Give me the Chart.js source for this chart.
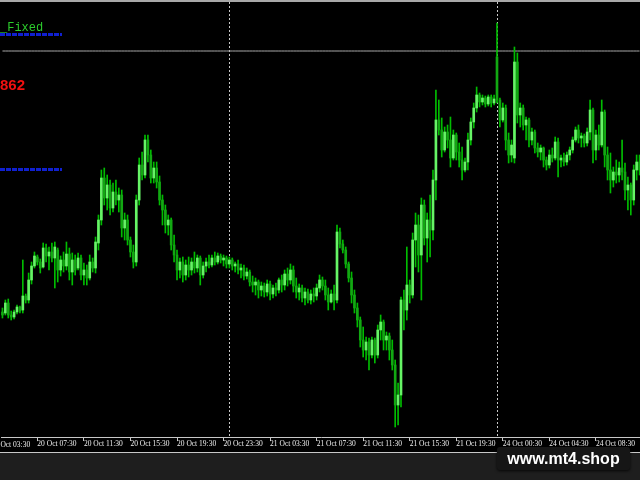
<!DOCTYPE html>
<html>
<head>
<meta charset="utf-8">
<script src="https://cdn.jsdelivr.net/npm/chart.js@4.4.0/dist/chart.umd.min.js"></script>
<style>
html,body{margin:0;padding:0;background:#000;width:640px;height:480px;overflow:hidden;}
body{position:relative;}
#wrap{position:absolute;left:0;top:0;width:640px;height:453px;overflow:hidden;}
#c{position:absolute;left:0;top:0;}
.topline{position:absolute;left:0;top:0;width:640px;height:2px;background:#a8a8a8;z-index:3;}
.bline{position:absolute;left:0;top:452px;width:640px;height:1px;background:#c8c8c8;z-index:3;}
.bottom{position:absolute;left:0;top:453px;width:640px;height:27px;background:#1e1e1e;z-index:2;}
.lbl{position:absolute;white-space:nowrap;z-index:4;}
.dash{position:absolute;left:0;width:62px;height:3px;z-index:4;
  background:repeating-linear-gradient(90deg,#1020d0 0 5px,rgba(0,0,0,0) 5px 6px);}
.wm{position:absolute;left:497px;top:447px;width:133px;height:23px;background:#161616;border-radius:3px;
  box-shadow:0 1px 3px rgba(0,0,0,0.8);z-index:5;color:#fff;font:bold 16px 'Liberation Sans',Arial,sans-serif;
  display:flex;align-items:center;justify-content:center;}
</style>
</head>
<body>
<div class="topline"></div>
<div id="wrap"><canvas id="c" width="641" height="453"></canvas></div>
<div class="lbl" style="left:0;top:22px;font:12px/12px 'Liberation Mono',monospace;color:#2ccc2c;">_Fixed</div>
<div class="dash" style="top:33px;"></div>
<div class="lbl" style="left:0;top:77px;font:bold 15px/15px 'Liberation Sans',Arial,sans-serif;color:#f01010;">862</div>
<div class="dash" style="top:168px;"></div>
<div class="lbl" style="left:-9px;top:440px;font:7.5px/9px 'Liberation Serif',serif;color:#f0f0f0;">20 Oct 03:30</div>
<div class="bline"></div>
<div class="bottom"></div>
<div class="wm">www.mt4.shop</div>
<script>
// ---- M15 candles, price in points ----
const open = [
125,124,134,122,120,125,130,127,141,137,
157,171,180,175,170,189,181,185,179,187,
167,177,171,183,165,177,169,179,162,167,
159,175,169,194,217,259,239,252,229,245,
237,242,209,217,197,185,175,237,272,262,
297,282,259,269,255,237,227,212,217,192,
182,167,175,162,172,167,175,169,179,162,
171,175,172,179,175,181,177,179,173,177,
171,173,167,169,161,165,155,152,155,147,
151,145,153,143,149,147,157,152,163,157,
167,151,145,149,139,145,137,143,141,149,
157,151,142,135,143,137,205,193,187,173,
159,142,129,117,97,87,95,82,97,82,
107,115,97,101,87,72,32,42,137,127,
152,142,197,212,182,232,199,217,207,257,
317,307,287,305,297,279,302,285,277,267,
275,297,315,329,342,335,339,333,340,334,
380,337,317,329,297,282,279,375,322,329,
312,317,297,305,289,285,289,277,272,282,
279,295,277,279,275,282,287,297,307,299,
301,294,305,327,287,302,292,325,282,267,
257,265,262,269,265,247,252,237,267,275];
const high = [
129,137,138,126,127,132,131,177,143,164,
175,185,182,178,194,193,190,194,195,189,
181,185,195,189,184,182,184,182,174,172,
182,179,200,222,267,269,262,257,254,257,
249,247,224,222,200,192,242,279,285,302,
302,287,275,275,261,242,232,222,219,202,
187,179,180,177,180,179,185,182,181,175,
179,182,182,185,184,183,182,181,180,179,
175,177,173,172,169,167,161,159,157,155,
154,157,156,152,154,159,162,167,169,173,
171,159,153,152,149,148,147,149,153,162,
160,157,149,147,152,212,209,197,190,175,
165,147,134,120,110,100,99,100,99,112,
122,117,105,104,97,77,54,140,147,190,
157,204,224,222,239,237,224,242,267,347,
337,319,310,312,320,307,304,294,290,279,
304,319,334,350,344,342,341,342,342,342,
414,339,334,332,304,297,390,384,334,332,
320,319,309,307,294,292,290,280,287,289,
300,299,282,284,285,290,300,310,312,304,
303,309,337,329,307,312,337,327,290,284,
270,277,275,297,274,260,254,272,282,282];
const low = [
119,122,119,117,118,123,124,124,134,134,
153,169,172,164,169,175,167,175,149,155,
161,165,167,157,152,162,167,157,152,152,
157,165,164,187,212,232,227,222,225,232,
225,200,197,192,180,169,171,232,257,259,
275,254,254,249,232,212,204,202,187,175,
157,159,155,157,160,162,164,165,152,159,
165,169,170,172,173,174,171,169,169,167,
165,163,159,157,158,151,145,142,139,141,
140,141,137,139,141,144,145,147,151,153,
145,139,137,135,132,134,133,135,137,145,
147,137,127,134,127,134,189,184,169,155,
134,124,110,90,80,77,67,79,74,79,
97,87,87,77,67,10,12,30,107,117,
134,139,170,165,137,192,175,180,197,237,
302,280,285,289,270,277,277,270,257,265,
267,292,309,325,330,332,330,331,330,332,
334,310,315,287,274,275,274,314,310,307,
297,290,292,284,280,277,270,267,269,275,
277,260,270,271,272,277,284,295,294,290,
290,291,297,274,277,287,290,270,257,244,
250,254,255,257,237,227,222,232,257,262];
const close = [
122,134,122,120,125,130,126,141,137,157,
171,181,175,169,189,181,185,179,190,167,
177,171,183,165,177,167,179,162,167,159,
175,169,195,217,259,239,252,229,245,237,
242,209,217,197,185,175,237,272,262,297,
282,259,269,255,237,227,212,217,192,182,
167,175,162,172,167,175,169,179,162,171,
175,172,179,175,181,177,179,173,177,171,
173,167,169,161,165,155,152,155,147,151,
145,153,143,149,147,157,152,163,157,167,
151,145,149,139,145,137,143,141,149,157,
151,142,135,143,137,205,193,187,173,159,
142,129,117,97,87,95,82,97,82,107,
115,97,101,87,72,32,42,137,127,152,
142,197,212,182,232,199,217,207,257,317,
307,287,305,297,279,302,285,277,267,275,
297,315,329,342,335,339,333,340,334,338,
337,317,329,297,282,292,375,322,329,312,
317,297,305,289,285,289,277,272,282,279,
295,277,279,275,282,287,297,307,299,301,
294,305,327,287,302,292,325,282,267,257,
265,262,269,265,247,252,237,267,275,267];

// sessions: [day label, first bar time, number of M15 bars]
const sessions = [["20 Oct","04:30",78],["21 Oct","00:00",92],["24 Oct","00:00",50]];
const tickLabels = ["20 Oct 07:30","20 Oct 11:30","20 Oct 15:30","20 Oct 19:30","20 Oct 23:30",
  "21 Oct 03:30","21 Oct 07:30","21 Oct 11:30","21 Oct 15:30","21 Oct 19:30",
  "24 Oct 00:30","24 Oct 04:30","24 Oct 08:30"];
const hLineLevel = 386;

// build category labels (time of each bar)
const categories = [];
sessions.forEach(([day, start, n]) => {
  let [h, m] = start.split(":").map(Number);
  let t = h * 60 + m;
  for (let k = 0; k < n; k++) {
    const tt = t + k * 15;
    const hh = String(Math.floor(tt / 60)).padStart(2, "0");
    const mm = String(tt % 60).padStart(2, "0");
    categories.push(day + " " + hh + ":" + mm);
  }
});
const tickSet = new Set(tickLabels);
const separatorIdx = categories.map((c, i) => c.endsWith(" 00:00") ? i : -1).filter(i => i >= 0);

const bodies = open.map((o, i) => [Math.min(o, close[i]), Math.max(o, close[i])]);
const wicks = open.map((o, i) => [Math.min(low[i], o, close[i]), Math.max(high[i], o, close[i])]);
const bodyColors = open.map((o, i) => close[i] >= o ? "#66f466" : "#12a812");

const separators = {
  id: "separators",
  beforeDatasetsDraw(chart) {
    const { ctx, chartArea, scales: { x } } = chart;
    ctx.save();
    ctx.strokeStyle = "#c8c8c8";
    ctx.lineWidth = 1;
    ctx.setLineDash([2, 2]);
    separatorIdx.forEach(i => {
      const px = Math.round(x.getPixelForValue(i)) + 0.5;
      ctx.beginPath();
      ctx.moveTo(px, 2);
      ctx.lineTo(px, chartArea.bottom);
      ctx.stroke();
    });
    ctx.restore();
  }
};

new Chart(document.getElementById("c"), {
  type: "bar",
  data: {
    labels: categories,
    datasets: [
      { label: "body", data: bodies, backgroundColor: bodyColors, barThickness: 2, grouped: false,
        minBarLength: 1, borderWidth: 0, order: 0 },
      { label: "wick", data: wicks, backgroundColor: "#00bc00", barThickness: 1, grouped: false,
        borderWidth: 0, order: 1 },
      { type: "line", label: "level", data: categories.map(() => hLineLevel), borderColor: "#a8a8a8",
        borderWidth: 1, pointRadius: 0, order: 3 }
    ]
  },
  options: {
    responsive: false,
    animation: false,
    devicePixelRatio: 1,
    layout: { padding: { left: 1, right: 0, top: 4, bottom: 0 } },
    plugins: { legend: { display: false }, tooltip: { enabled: false } },
    scales: {
      x: {
        type: "category",
        offset: true,
        grid: {
          offset: false, drawOnChartArea: false, drawTicks: true, tickLength: 4,
          color: c => tickSet.has(categories[c.index]) ? "#c8c8c8" : "rgba(0,0,0,0)"
        },
        border: { display: true, color: "#c8c8c8", width: 1 },
        ticks: {
          autoSkip: false, maxRotation: 0, minRotation: 0, align: "start", padding: -1,
          color: "#f0f0f0", font: { family: "'Liberation Serif', serif", size: 7.5 },
          callback: (v, i) => tickSet.has(categories[i]) ? categories[i] : ""
        },
        afterFit: s => { s.height = 16; }
      },
      y: { display: false, min: 0, max: 433 }
    }
  },
  plugins: [separators]
});
</script>
</body>
</html>
